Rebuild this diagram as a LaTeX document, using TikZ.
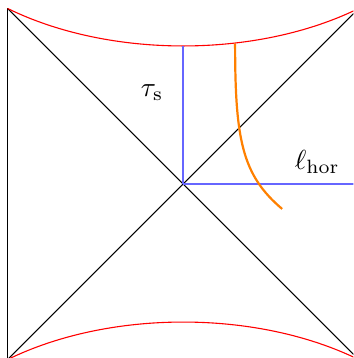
\documentclass[tikz,border=0pt]{standalone}
\begin{document}
\begin{tikzpicture}[x=2.24cm, y=2.24cm,
    horizon/.style={black, line width=0.4pt},
    singularity/.style={red, line width=0.4pt},
    coordline/.style={blue!60, line width=0.5pt},
    observer/.style={orange, line width=0.8pt}]
    \clip (-1.043,-0.991) rectangle (0.969,1.048);

    % Corners and centre
    \coordinate (O) at (0,0);
    \coordinate (TL) at (-1,1);
    \coordinate (TR) at (1,1);
    \coordinate (BL) at (-1,-1);
    \coordinate (BR) at (1,-1);

    % Left boundary
    \draw[horizon] (TL) -- (BL);

    % Horizons
    \draw[horizon] (TL) -- (BR);
    \draw[horizon] (BL) -- (TR);

    % Singularities
    \draw[singularity] (TL) .. controls (-0.42,0.715) and (0.42,0.715) .. (TR);
    \draw[singularity] (BL) .. controls (-0.42,-0.715) and (0.42,-0.715) .. (BR);

    % Time and length directions
    \coordinate (S) at (0,0.786);
    \coordinate (E) at (1,0);
    \draw[coordline] (O) -- (S);
    \draw[coordline] (O) -- (E);
    \node (tau) at (-0.177,0.519) {$\tau_{\mathrm{s}}$};
    \node (ell) at (0.764,0.125) {$\ell_{\mathrm{hor}}$};

    % Infalling path
    \coordinate (P0) at (0.296,0.800);
    \coordinate (P3) at (0.564,-0.142);
    \draw[observer] (P0) .. controls (0.296,0.251) and (0.336,0.051) .. (P3);
\end{tikzpicture}
\end{document}
